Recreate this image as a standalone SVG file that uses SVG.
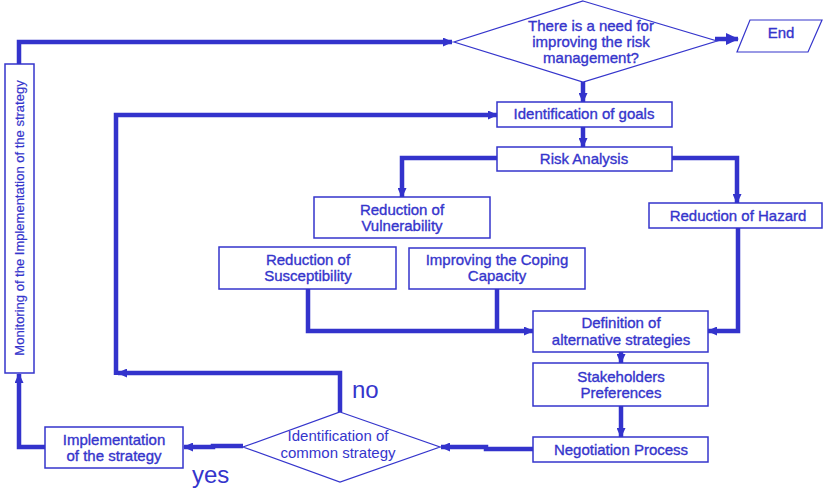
<svg xmlns="http://www.w3.org/2000/svg" width="823" height="488" viewBox="0 0 823 488">
<defs>
<style>
.box{fill:#fff;stroke:#3535cc;stroke-width:1.5}
.dia{fill:#fff;stroke:#3535cc;stroke-width:1.2}
.t{font-family:"Liberation Sans",Arial,sans-serif;font-size:15px;fill:#3535cc;text-anchor:middle;stroke:#3535cc;stroke-width:0.35}
.tl{font-family:"Liberation Sans",Arial,sans-serif;font-size:15px;fill:#3535cc;text-anchor:middle}
.big{font-family:"Liberation Sans",Arial,sans-serif;font-size:24px;fill:#3535cc}
.c{fill:none;stroke:#3333cc;stroke-width:4.5;stroke-linejoin:miter}
</style>
<marker id="ah" markerUnits="userSpaceOnUse" markerWidth="10" markerHeight="9" refX="9" refY="4.5" orient="auto">
<path d="M0,0 L10,4.5 L0,9 z" fill="#3333cc"/>
</marker>
<marker id="ahL" markerUnits="userSpaceOnUse" markerWidth="13" markerHeight="12" refX="12" refY="6" orient="auto">
<path d="M0,0 L13,6 L0,12 z" fill="#3333cc"/>
</marker>
</defs>
<rect width="823" height="488" fill="#fff"/>

<g id="connectors">
<path class="c" d="M19,64 V42 H452" marker-end="url(#ah)"/>
<path class="c" d="M715,39 H738" marker-end="url(#ahL)"/>
<path class="c" d="M583,82 V102" marker-end="url(#ah)"/>
<path class="c" d="M583,127 V147" marker-end="url(#ah)"/>
<path class="c" d="M497,158 H402 V197" marker-end="url(#ah)"/>
<path class="c" d="M672,158 H737 V203" marker-end="url(#ah)"/>
<path class="c" d="M308,289 V331 H533" marker-end="url(#ah)"/>
<path class="c" d="M497,289 V331"/>
<path class="c" d="M738,228 V331 H708" marker-end="url(#ah)"/>
<path class="c" d="M621,352 V363" marker-end="url(#ah)"/>
<path class="c" d="M621,406 V437" marker-end="url(#ah)"/>
<path class="c" d="M533,449 H486 V447 H441" marker-end="url(#ah)"/>
<path class="c" d="M243,446 H213 V447 H184" marker-end="url(#ah)"/>
<path class="c" d="M45,447 H19 V374" marker-end="url(#ah)"/>
<path class="c" d="M340,412 V373 H118" marker-end="url(#ah)"/>
<path class="c" d="M116,375 V115 H497" marker-end="url(#ah)"/>
</g>

<g id="need">
<polygon class="dia" points="583,1 717,41 583,82 454,42"/>
<text class="t" x="591" y="31">There is a need for</text>
<text class="t" x="591" y="47">improving the risk</text>
<text class="t" x="591" y="63">management?</text>
</g>

<g id="end">
<polygon class="dia" points="750,20 822,20 808,52 737,52"/>
<text class="t" x="781" y="38">End</text>
</g>

<g id="goals">
<rect class="box" x="497" y="102" width="175" height="25"/>
<text class="t" x="584" y="119">Identification of goals</text>
</g>

<g id="risk">
<rect class="box" x="497" y="147" width="175" height="24"/>
<text class="t" x="584" y="164">Risk Analysis</text>
</g>

<g id="vulnerability">
<rect class="box" x="314" y="197" width="176" height="41"/>
<text class="t" x="402" y="215">Reduction of</text>
<text class="t" x="402" y="231">Vulnerability</text>
</g>

<g id="hazard">
<rect class="box" x="649" y="203" width="173" height="25"/>
<text class="t" x="738" y="221">Reduction of Hazard</text>
</g>

<g id="susceptibility">
<rect class="box" x="219" y="247" width="177" height="42"/>
<text class="t" x="308" y="265">Reduction of</text>
<text class="t" x="308" y="281">Susceptibility</text>
</g>

<g id="coping">
<rect class="box" x="409" y="248" width="176" height="41"/>
<text class="t" x="497" y="265">Improving the Coping</text>
<text class="t" x="497" y="281">Capacity</text>
</g>

<g id="definition">
<rect class="box" x="533" y="311" width="175" height="41"/>
<text class="t" x="621" y="328">Definition of</text>
<text class="t" x="621" y="345">alternative strategies</text>
</g>

<g id="stakeholders">
<rect class="box" x="533" y="363" width="175" height="43"/>
<text class="t" x="621" y="382">Stakeholders</text>
<text class="t" x="621" y="398">Preferences</text>
</g>

<g id="negotiation">
<rect class="box" x="533" y="437" width="175" height="25"/>
<text class="t" x="621" y="455">Negotiation Process</text>
</g>

<g id="common">
<polygon class="dia" points="340,412 440,447 340,482 243,447"/>
<text class="tl" x="338" y="441">Identification of</text>
<text class="tl" x="338" y="458">common strategy</text>
</g>

<g id="implementation">
<rect class="box" x="45" y="427" width="138" height="41"/>
<text class="t" x="114" y="445">Implementation</text>
<text class="t" x="114" y="461">of the strategy</text>
</g>

<g id="monitoring">
<rect class="box" x="5" y="64" width="29" height="309"/>
<text class="t" style="font-size:13px;stroke-width:0.2" transform="translate(24,218) rotate(-90)" x="0" y="0">Monitoring of the Implementation of the strategy</text>
</g>

<g id="labels">
<text class="big" x="352" y="398">no</text>
<text class="big" x="192" y="483">yes</text>
</g>
</svg>
